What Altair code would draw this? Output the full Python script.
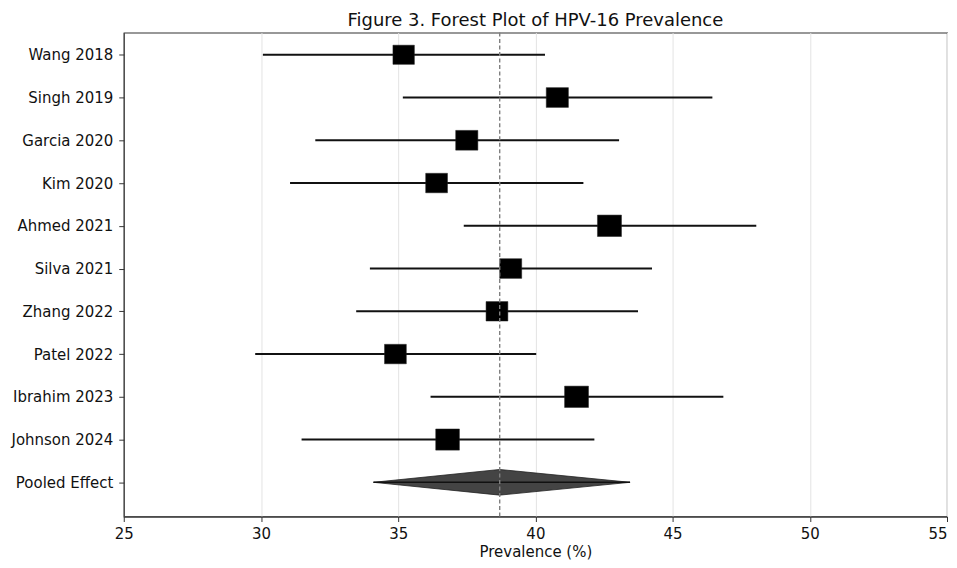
import altair as alt
import pandas as pd

studies = ["Wang 2018", "Singh 2019", "Garcia 2020", "Kim 2020", "Ahmed 2021",
           "Silva 2021", "Zhang 2022", "Patel 2022", "Ibrahim 2023", "Johnson 2024"]
estimate = [35.2, 40.8, 37.5, 36.4, 42.7, 39.1, 38.6, 34.9, 41.5, 36.8]
lower = [30.07, 35.17, 31.98, 31.06, 37.39, 33.97, 33.47, 29.79, 36.18, 31.48]
upper = [40.35, 46.45, 43.05, 41.75, 48.05, 44.25, 43.74, 40.03, 46.85, 42.15]
weight = [9.1, 9.7, 9.7, 9.4, 11.4, 9.6, 9.4, 9.4, 11.3, 11.1]

pooled_label = "Pooled Effect"
pooled_est = 38.7
pooled_lower = 34.1
pooled_upper = 43.45
pooled_halfheight = 0.3

x_ticks = [25, 30, 35, 40, 45, 50, 55]

row_labels = studies + [pooled_label]
n = len(studies)
ypos = [n - i for i in range(n)]  # Wang at top (10) ... Johnson (1); pooled at 0

df = pd.DataFrame({"study": studies, "est": estimate, "lo": lower, "hi": upper,
                   "w": weight, "y": ypos})

diamond = pd.DataFrame({
    "x": [pooled_lower, pooled_est, pooled_upper],
    "ya": [0, -pooled_halfheight, 0],
    "yb": [0, pooled_halfheight, 0],
})
pooled = pd.DataFrame({"lo": [pooled_lower], "hi": [pooled_upper], "est": [pooled_est], "y": [0]})

label_array = "[" + ",".join("'" + s + "'" for s in reversed(row_labels)) + "]"

FONT = "DejaVu Sans"
xscale = alt.Scale(domain=[x_ticks[0], x_ticks[-1]], nice=False, zero=False)
yscale = alt.Scale(domain=[-0.8, 10.52], nice=False, zero=False)

x_axis = alt.Axis(values=x_ticks, title="Prevalence (%)", grid=True,
                  gridColor="#e3e3e3", gridWidth=1, tickSize=5, tickColor="#333",
                  domainColor="#333", domainWidth=1.1, labelPadding=5, titlePadding=3,
                  labelFontSize=15, titleFontSize=15, labelColor="#111", titleColor="#111",
                  labelFont=FONT, titleFont=FONT, labelFlush=False, labelOverlap=False,
                  labelAlign=alt.ExprRef(expr="datum.value >= %d ? 'right' : 'center'" % x_ticks[-1]),
                  titleFontWeight="normal", format="d")
y_axis = alt.Axis(values=list(range(0, n + 1)), title=None, grid=False, tickSize=5,
                  tickColor="#333", domainColor="#333", domainWidth=1.1, labelPadding=6,
                  labelFontSize=15, labelColor="#111", labelFont=FONT,
                  labelExpr=label_array + "[datum.value]")

base_x = alt.X("lo:Q", scale=xscale, axis=x_axis)
base_y = alt.Y("y:Q", scale=yscale, axis=y_axis)

ci = alt.Chart(df).mark_rule(color="#111", strokeWidth=1.9).encode(
    x=base_x, x2="hi:Q", y=base_y)

squares = alt.Chart(df).mark_point(
    shape="M-1.12,-1L1.12,-1L1.12,1L-1.12,1Z", filled=True, color="#000", opacity=1,
    stroke="#222", strokeWidth=0.5
).encode(
    x=alt.X("est:Q", scale=xscale),
    y=alt.Y("y:Q", scale=yscale),
    size=alt.Size("w:Q", scale=alt.Scale(domain=[0, 100], range=[0, 4048]), legend=None),
)

dia = alt.Chart(diamond).mark_area(color="#444444", opacity=1, orient="vertical",
                                   stroke="#222", strokeWidth=0.8).encode(
    x=alt.X("x:Q", scale=xscale),
    y=alt.Y("ya:Q", scale=yscale),
    y2="yb:Q",
)

pooled_line = alt.Chart(pooled).mark_rule(color="#111", strokeWidth=1.6).encode(
    x=alt.X("lo:Q", scale=xscale), x2="hi:Q", y=alt.Y("y:Q", scale=yscale))

ref = alt.Chart(pooled).mark_rule(color="#808080", strokeWidth=1.4, strokeDash=[4, 2.5]).encode(
    x=alt.X("est:Q", scale=xscale))

chart = alt.layer(dia, pooled_line, ci, squares, ref).properties(
    width=825, height=485,
    title=alt.TitleParams("Figure 3. Forest Plot of HPV-16 Prevalence", fontSize=18,
                          font=FONT, fontWeight="normal", color="#111",
                          anchor="middle", offset=2),
    autosize=alt.AutoSizeParams(type="none"),
    padding={"left": 116, "top": 24, "right": 2, "bottom": 51},
).configure(font=FONT).configure_view(stroke="#333", strokeWidth=1.1)

chart.save("out.html", embed_options={"renderer": "svg", "actions": False})
